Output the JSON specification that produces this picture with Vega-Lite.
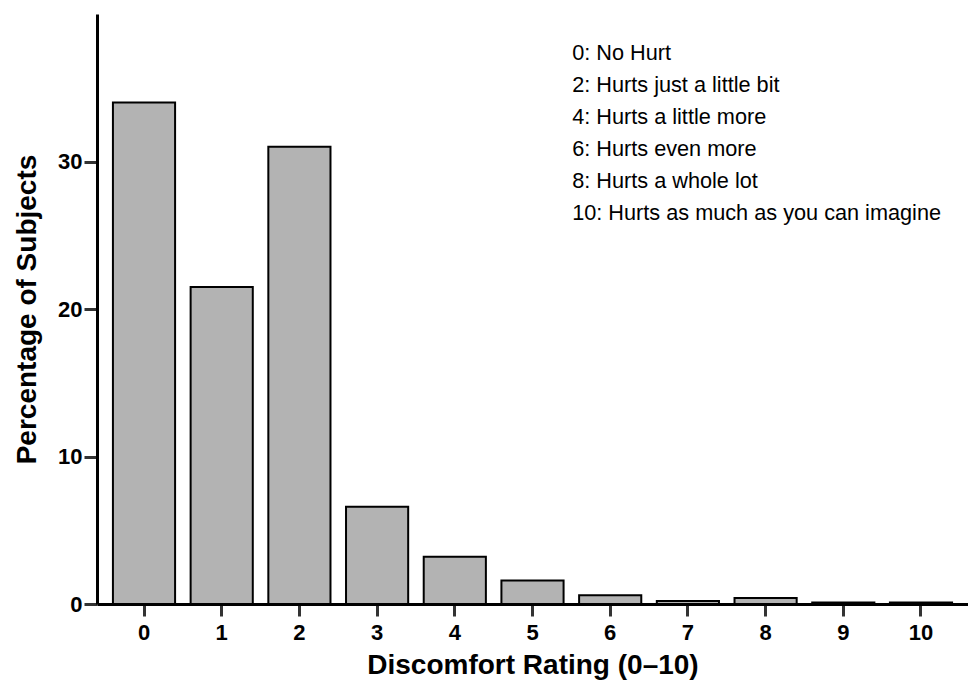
{
  "$schema": "https://vega.github.io/schema/vega-lite/v6.json",
  "width": 871,
  "height": 590,
  "autosize": {"type": "none"},
  "padding": {"left": 97, "top": 14, "right": 0, "bottom": 83},
  "background": "white",
  "config": {
    "view": {"stroke": null},
    "font": "Liberation Sans",
    "axis": {"grid": false}
  },
  "layer": [
    {
      "data": {
        "values": [
          {"rating": 0, "pct": 34.0},
          {"rating": 1, "pct": 21.5},
          {"rating": 2, "pct": 31.0},
          {"rating": 3, "pct": 6.6},
          {"rating": 4, "pct": 3.2},
          {"rating": 5, "pct": 1.6},
          {"rating": 6, "pct": 0.6},
          {"rating": 7, "pct": 0.2},
          {"rating": 8, "pct": 0.4},
          {"rating": 9, "pct": 0.1},
          {"rating": 10, "pct": 0.1}
        ]
      },
      "mark": {"type": "bar", "fill": "#b3b3b3", "stroke": "#000000", "strokeWidth": 2},
      "encoding": {
        "x": {
          "field": "rating",
          "type": "ordinal",
          "scale": {"paddingInner": 0.2, "paddingOuter": 0.205},
          "axis": {
            "title": "Discomfort Rating (0–10)",
            "titleFontSize": 28,
            "titleFontWeight": "bold",
            "titleColor": "#000000",
            "titlePadding": 8,
            "labelAngle": 0,
            "labelFontSize": 22,
            "labelFontWeight": "bold",
            "labelColor": "#000000",
            "labelPadding": 6,
            "domainColor": "#000000",
            "domainWidth": 3,
            "tickColor": "#333333",
            "tickWidth": 3,
            "tickSize": 12
          }
        },
        "y": {
          "field": "pct",
          "type": "quantitative",
          "scale": {"domain": [0, 40], "nice": false},
          "axis": {
            "title": "Percentage of Subjects",
            "titleFontSize": 28,
            "titleFontWeight": "bold",
            "titleColor": "#000000",
            "titlePadding": 16,
            "values": [0, 10, 20, 30],
            "labelFontSize": 22,
            "labelFontWeight": "bold",
            "labelColor": "#000000",
            "labelPadding": 2,
            "domainColor": "#000000",
            "domainWidth": 3,
            "tickColor": "#333333",
            "tickWidth": 3,
            "tickSize": 13
          }
        }
      }
    },
    {
      "data": {
        "values": [
          {"order": 1, "label": "0: No Hurt"},
          {"order": 2, "label": "2: Hurts just a little bit"},
          {"order": 3, "label": "4: Hurts a little more"},
          {"order": 4, "label": "6: Hurts even more"},
          {"order": 5, "label": "8: Hurts a whole lot"},
          {"order": 6, "label": "10: Hurts as much as you can imagine"}
        ]
      },
      "mark": {"type": "text", "align": "left", "baseline": "middle", "fontSize": 21.7, "color": "#000000", "dx": -38},
      "encoding": {
        "x": {"datum": 6, "type": "ordinal"},
        "y": {
          "field": "order",
          "type": "ordinal",
          "scale": {"range": [39, 199], "padding": 0},
          "axis": null
        },
        "text": {"field": "label", "type": "nominal"}
      }
    }
  ],
  "resolve": {"scale": {"y": "independent"}}
}
